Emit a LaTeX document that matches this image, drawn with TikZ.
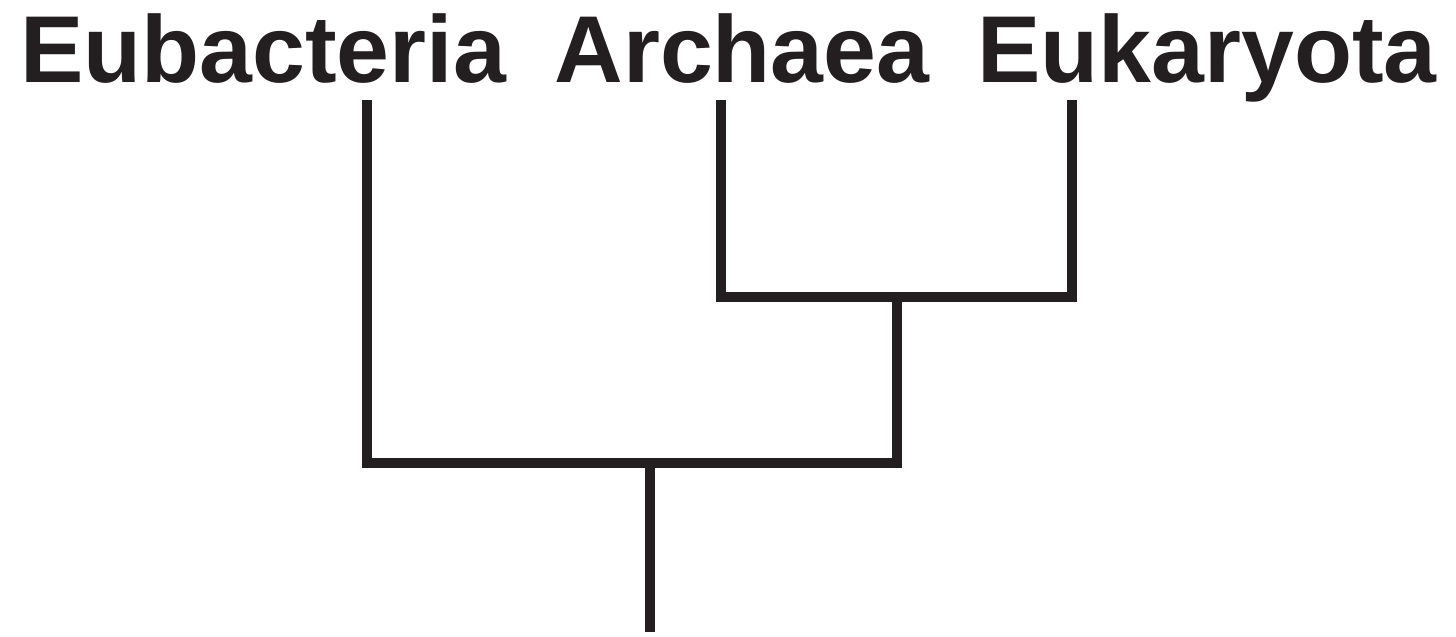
\documentclass[tikz,border=0pt]{standalone}
\usepackage{fontspec}
\setmainfont{Liberation Sans}
\definecolor{ink}{RGB}{35,31,32}
\begin{document}
\begin{tikzpicture}[x=1pt,y=-1pt,
  lbl/.style={anchor=base,inner sep=0pt,font=\fontsize{95}{100}\selectfont\bfseries,text=ink},
  branch/.style={line width=10pt,draw=ink,line join=miter,line cap=butt}]
\useasboundingbox (0,0) rectangle (1456,637);
\node[lbl] (eub) at (263,82) {Eubacteria};
\node[lbl] (arc) at (742,82) {Archaea};
\node[lbl] (euk) at (1207,82) {Eukaryota};
\coordinate (teub) at (367,100);
\coordinate (tarc) at (721,100);
\coordinate (teuk) at (1072,100);
\coordinate (n1) at (897,297);
\coordinate (n0) at (650,463);
\coordinate (root) at (650,632);
\draw[branch] (tarc) |- (n1) -| (teuk);
\draw[branch] (teub) |- (n0) -| (n1);
\draw[branch] (n0) -- (root);
\end{tikzpicture}
\end{document}
